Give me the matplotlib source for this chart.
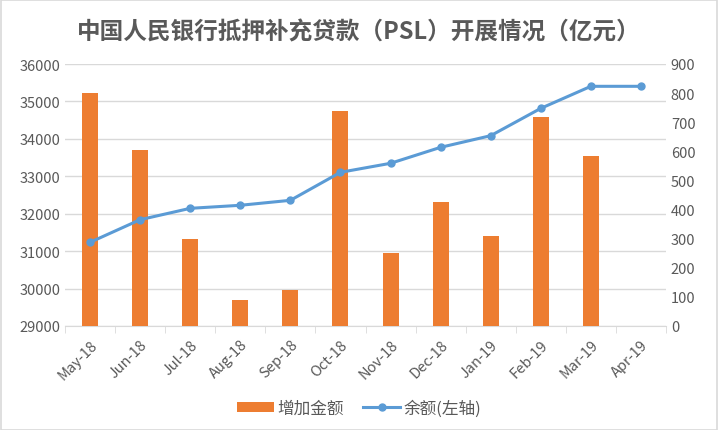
import matplotlib.pyplot as plt
import numpy as np

plt.rcParams['font.family'] = ['Noto Sans CJK SC', 'DejaVu Sans']

# 数据
months = ['May-18', 'Jun-18', 'Jul-18', 'Aug-18', 'Sep-18', 'Oct-18',
          'Nov-18', 'Dec-18', 'Jan-19', 'Feb-19', 'Mar-19', 'Apr-19']
increase = [800, 605, 299, 89, 124, 739, 251, 426, 309, 718, 584, np.nan]
balance = [31236, 31840, 32144, 32225, 32358, 33106,
           33347, 33774, 34085, 34815, 35404, 35404]

orange = '#ED7D31'
blue = '#5B9BD5'
grey = '#595959'
gridc = '#D9D9D9'

fig = plt.figure(figsize=(7.18, 4.31), dpi=100)
# ax: 左轴刻度+网格, axb: 柱子(右轴), axl: 折线(与左轴同刻度)
ax = fig.add_axes([65 / 718, 1 - 327 / 431, (666 - 65) / 718, (327 - 65) / 431])
axb = ax.twinx()
axl = ax.twinx()

x = np.arange(len(months))

ax.set_ylim(29000, 36000)
ax.set_yticks(np.arange(29000, 36001, 1000))
ax.yaxis.grid(True, color=gridc, lw=1)
ax.set_xlim(-0.5, len(months) - 0.5)

# 柱子在右轴
axb.bar(x, increase, width=0.32, color=orange, label='增加金额', zorder=2)
axb.set_ylim(0, 900)
axb.set_yticks(np.arange(0, 901, 100))

# 折线在左轴
axl.plot(x, balance, color=blue, lw=2.2, marker='o', ms=5, label='余额(左轴)', zorder=3)
axl.set_ylim(ax.get_ylim())
axl.set_yticks([])

for a in (ax, axb, axl):
    for s in a.spines.values():
        s.set_visible(False)
    a.tick_params(axis='y', length=0, colors=grey, labelsize=10.5)

ax.spines['bottom'].set_visible(True)
ax.spines['bottom'].set_color(gridc)

ax.set_xticks(x)
ax.set_xticklabels(months, rotation=45, ha='right', rotation_mode='anchor',
                   color=grey, fontsize=10.5)
ax.tick_params(axis='x', which='major', length=0, pad=8)
ax.set_xticks(np.arange(-0.5, len(months)), minor=True)
ax.tick_params(axis='x', which='minor', length=5, color=gridc)

fig.text(0.5, 1 - 32 / 431, '中国人民银行抵押补充贷款（PSL）开展情况（亿元）',
         ha='center', va='center', fontsize=17, fontweight='bold', color=grey)

h1, l1 = axb.get_legend_handles_labels()
h2, l2 = axl.get_legend_handles_labels()
fig.legend(h1 + h2, l1 + l2, loc='center', bbox_to_anchor=(0.5, 1 - 409 / 431),
           ncol=2, frameon=False, fontsize=12, labelcolor=grey,
           handlelength=2.2, handleheight=0.5, columnspacing=1.2, handletextpad=0.2)

# 外框
fig.patches.append(plt.Rectangle((0.001, 0.001), 0.998, 0.997, transform=fig.transFigure,
                                 fill=False, edgecolor='#D9D9D9', lw=1.2))

fig.savefig('out.png', dpi=100)
